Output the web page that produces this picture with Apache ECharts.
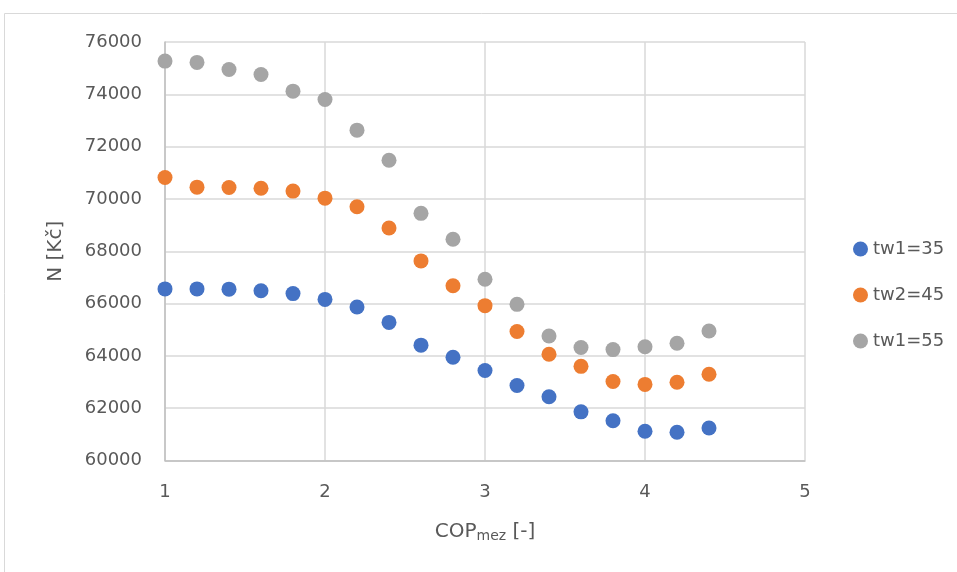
<!DOCTYPE html>
<html><head><meta charset="utf-8">
<script src="https://cdn.jsdelivr.net/npm/echarts@6/dist/echarts.min.js"></script>
<style>html,body{margin:0;padding:0;background:#fff}#c{width:957px;height:572px}</style>
</head><body><div id="c"></div>
<script>
const xValues = [1.0,1.2,1.4,1.6,1.8,2.0,2.2,2.4,2.6,2.8,3.0,3.2,3.4,3.6,3.8,4.0,4.2,4.4];
const tw35 = [66560,66560,66550,66490,66380,66160,65870,65280,64410,63950,63440,62870,62440,61860,61520,61120,61080,61240];
const tw45 = [70820,70450,70440,70410,70300,70030,69700,68890,67630,66680,65920,64930,64060,63600,63020,62910,62990,63300];
const tw55 = [75270,75220,74950,74760,74120,73800,72630,71480,69450,68460,66930,65970,64760,64320,64240,64350,64480,64950];
const seriesNames = ['tw1=35','tw2=45','tw1=55'];
const colors = ['#4472C4','#ED7D31','#A5A5A5'];
const FONT = 'DejaVu Sans';
const chart = echarts.init(document.getElementById('c'));
const mk = arr => xValues.map((x,i)=>[x,arr[i]]);
chart.setOption({
  animation:false,
  textStyle:{fontFamily:FONT},
  graphic:[{type:'rect',shape:{x:4.5,y:13.5,width:1000,height:600},style:{fill:'none',stroke:'#d9d9d9',lineWidth:1}}],
  grid:{left:165,top:42,width:640,height:418.5,containLabel:false},
  legend:{orient:'vertical',left:848,top:235,itemGap:28,icon:'circle',itemWidth:15,itemHeight:15,
    textStyle:{fontSize:18,color:'#595959',fontFamily:FONT},data:seriesNames},
  xAxis:{type:'value',min:1,max:5,interval:1,
    axisLine:{show:true,lineStyle:{color:'#bfbfbf',width:1.5}},axisTick:{show:false},
    splitLine:{show:true,lineStyle:{color:'#d9d9d9',width:1.5}},
    axisLabel:{fontSize:18,color:'#595959',margin:23,fontFamily:FONT},
    name:'{a|COP}{b|mez}{a| [-]}',nameLocation:'middle',nameGap:59,
    nameTextStyle:{rich:{a:{fontSize:20,color:'#595959',fontFamily:FONT},b:{fontSize:14,color:'#595959',fontFamily:FONT,verticalAlign:'bottom',padding:[10,0,0,0]}}}},
  yAxis:{type:'value',min:60000,max:76000,interval:2000,
    axisLine:{show:true,lineStyle:{color:'#bfbfbf',width:1.5}},axisTick:{show:false},
    splitLine:{show:true,lineStyle:{color:'#d9d9d9',width:1.5}},
    axisLabel:{fontSize:18,color:'#595959',margin:23,fontFamily:FONT,formatter:v=>String(v)},
    name:'N [Kč]',nameLocation:'middle',nameGap:99,nameRotate:90,
    nameTextStyle:{fontSize:20,color:'#595959',fontFamily:FONT}},
  series:[tw35,tw45,tw55].map((arr,i)=>({name:seriesNames[i],type:'scatter',data:mk(arr),symbolSize:15,itemStyle:{color:colors[i],opacity:1}}))
});
</script></body></html>
